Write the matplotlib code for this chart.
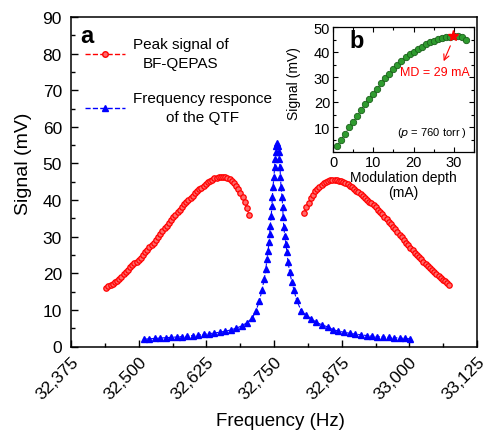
import matplotlib
matplotlib.use("Agg")
import matplotlib.pyplot as plt
from matplotlib.lines import Line2D
from matplotlib.ticker import MultipleLocator, FuncFormatter
import matplotlib.transforms as mtransforms

plt.rcParams['font.family'] = ['Liberation Sans', 'DejaVu Sans']

# ---------------- data ----------------
red_left_f = [32440 + 4 * k for k in range(67)]
red_left_v = [16.0, 16.4, 16.8, 17.2, 17.6, 18.0, 18.5, 19.1, 19.7, 20.3,
              21.0, 21.6, 22.2, 22.7, 23.2, 23.7, 24.3, 25.0, 25.7, 26.4,
              27.1, 27.8, 28.4, 29.1, 29.9, 30.7, 31.5, 32.3, 33.0, 33.7,
              34.5, 35.3, 36.0, 36.7, 37.4, 38.1, 38.8, 39.4, 40.0, 40.6,
              41.2, 41.8, 42.4, 42.9, 43.4, 43.9, 44.4, 44.8, 45.2, 45.6,
              45.9, 46.1, 46.3, 46.3, 46.3, 46.2, 46.0, 45.7, 45.3, 44.6,
              43.8, 43.0, 42.0, 40.9, 39.5, 37.8, 35.8]
red_right_f = [32806 + 4 * k for k in range(68)]
red_right_v = [36.5, 38.0, 39.3, 40.5, 41.5, 42.4, 43.1, 43.7, 44.2, 44.6,
               45.0, 45.3, 45.4, 45.5, 45.5, 45.4, 45.3, 45.1, 44.9, 44.6,
               44.3, 43.9, 43.5, 43.1, 42.6, 42.1, 41.6, 41.1, 40.6, 40.1,
               39.6, 39.1, 38.6, 38.0, 37.4, 36.8, 36.2, 35.5, 34.8, 34.1,
               33.4, 32.7, 32.0, 31.3, 30.5, 29.8, 29.1, 28.4, 27.7, 27.0,
               26.3, 25.6, 25.0, 24.4, 23.8, 23.2, 22.6, 22.0, 21.5, 20.9,
               20.4, 19.8, 19.3, 18.8, 18.3, 17.8, 17.3, 16.7]

blue_f = [32510, 32520, 32530, 32540, 32550, 32560, 32570, 32580, 32590, 32600,
          32610, 32620, 32630, 32640, 32650, 32660, 32670, 32680, 32690, 32700,
          32710, 32717, 32723, 32728, 32732, 32735, 32737, 32739, 32741, 32742,
          32743, 32745, 32746, 32747, 32748, 32750, 32751, 32752, 32753, 32754,
          32756,
          32758, 32759, 32760, 32761, 32762, 32763, 32765, 32766, 32767, 32768,
          32770, 32772, 32774, 32776, 32779, 32783, 32787, 32792, 32800, 32809,
          32819, 32828, 32839, 32850, 32859, 32869, 32879, 32890, 32900, 32910,
          32921, 32931, 32941, 32952, 32962, 32972, 32983, 32992, 33001]
blue_v = [2.0, 2.1, 2.2, 2.3, 2.4, 2.5, 2.6, 2.7, 2.8, 3.0,
          3.1, 3.3, 3.5, 3.7, 3.9, 4.2, 4.5, 5.0, 5.6, 6.5,
          7.8, 9.8, 12.5, 15.5, 18.5, 21.2, 23.9, 26.2, 28.5, 30.7,
          33.0, 35.7, 38.5, 40.7, 43.5, 46.2, 48.9, 51.2, 53.0, 54.8,
          55.7,
          54.8, 53.0, 51.2, 48.9, 46.2, 43.5, 40.7, 38.0, 35.3, 32.6,
          30.3, 28.0, 25.7, 23.0, 20.3, 17.6, 15.3, 12.6, 9.8, 8.6,
          7.6, 6.6, 5.9, 5.3, 4.6, 4.2, 3.9, 3.6, 3.4, 3.2,
          3.0, 2.8, 2.7, 2.6, 2.5, 2.4, 2.3, 2.2, 2.1]

md_mA = list(range(1, 34))
md_signal = [2.6, 5.0, 7.3, 10.0, 12.0, 14.4, 17.0, 19.4, 21.4, 23.4,
             25.4, 27.5, 29.5, 31.1, 33.2, 34.8, 36.4, 37.9, 39.1, 40.2,
             41.3, 42.2, 43.2, 44.0, 44.6, 45.3, 45.7, 46.1, 46.2, 46.5,
             46.5, 46.0, 44.9]
best_md = 29.7
best_signal = 46.4

xticks_main = [32375, 32500, 32625, 32750, 32875, 33000, 33125]

# ---------------- figure ----------------
fig = plt.figure(figsize=(4.88, 4.35), dpi=100)
ax = fig.add_axes([71/488, 1-347.5/435, 406/488, 329.5/435])

ax.plot(red_left_f, red_left_v, ls='--', color='red', lw=0.8, marker='o',
        ms=3.9, mfc='#ff6a6a', mec='red', mew=0.9)
ax.plot(red_right_f, red_right_v, ls='--', color='red', lw=0.8, marker='o',
        ms=3.9, mfc='#ff6a6a', mec='red', mew=0.9)
ax.plot(blue_f, blue_v, ls='--', color='blue', lw=0.8, marker='^',
        ms=5.0, mfc='blue', mec='blue')

ax.set_xlim(32375, 33125)
ax.set_ylim(0, 90)
ax.set_xticks(xticks_main)
ax.xaxis.set_minor_locator(MultipleLocator(62.5))
ax.yaxis.set_major_locator(MultipleLocator(10))
ax.yaxis.set_minor_locator(MultipleLocator(5))
ax.xaxis.set_major_formatter(FuncFormatter(lambda v, p: f"{int(round(v)):,}"))
ax.tick_params(which='both', direction='in', top=False, right=False, labelsize=12.5)
ax.tick_params(which='major', length=5, width=1)
ax.tick_params(which='minor', length=3, width=1)
ax.tick_params(axis='y', pad=6.5)
for sp in ax.spines.values():
    sp.set_linewidth(1.1)
offset = mtransforms.ScaledTranslation(9/100, 0, fig.dpi_scale_trans)
for lab in ax.get_xticklabels():
    lab.set_rotation(45)
    lab.set_ha('right')
    lab.set_va('top')
    lab.set_rotation_mode('anchor')
    lab.set_transform(lab.get_transform() + offset)
ax.tick_params(axis='x', pad=5)
ax.set_xlabel('Frequency (Hz)', fontsize=13.5)
ax.set_ylabel('Signal (mV)', fontsize=14)
ax.xaxis.set_label_coords(0.515, -0.2)
ax.yaxis.set_label_coords(-0.095, 0.558)

ax.text(0.022, 0.925, 'a', transform=ax.transAxes, fontsize=17,
        fontweight='bold', ha='left', va='baseline')

handles = [Line2D([], [], ls='--', color='red', lw=1, marker='o', ms=4,
                  mfc='#ff6a6a', mec='red'),
           Line2D([], [], ls='--', color='blue', lw=1, marker='^', ms=5,
                  mfc='blue', mec='blue')]
leg = ax.legend(handles, ['Peak signal of\nBF-QEPAS', 'Frequency responce\nof the QTF'],
                loc='upper left', bbox_to_anchor=(0.035, 0.94), frameon=False,
                fontsize=11, handlelength=2.6, handletextpad=0.5,
                labelspacing=1.35, borderpad=0, borderaxespad=0, numpoints=1)
for t in leg.get_texts():
    t.set_multialignment('center')
    t.set_linespacing(1.5)

# ---------------- inset ----------------
ins = fig.add_axes([333/488, 1-153/435, 141/488, 125/435])
ins.plot(md_mA, md_signal, ls='--', color='#1e6e1e', lw=0.6, marker='o',
         ms=4.6, mfc='#2e9b2e', mec='#1a5f1a', mew=0.6)
ins.plot([best_md], [best_signal], marker='*', color='red', ms=8, ls='none')
ins.set_xlim(0, 35)
ins.set_ylim(0, 50)
ins.set_xticks([0, 10, 20, 30])
ins.set_yticks([10, 20, 30, 40, 50])
ins.xaxis.set_minor_locator(MultipleLocator(5))
ins.yaxis.set_minor_locator(MultipleLocator(5))
ins.tick_params(which='both', direction='in', top=True, right=True, labelsize=10.5)
ins.tick_params(which='major', length=3.5, width=0.8, pad=2)
ins.tick_params(which='minor', length=2, width=0.8)
for sp in ins.spines.values():
    sp.set_linewidth(0.9)
ins.set_xlabel('Modulation depth\n(mA)', fontsize=10, labelpad=1, linespacing=1.1)
ins.set_ylabel('Signal (mV)', fontsize=10)
ins.yaxis.set_label_coords(-0.225, 0.556)
ins.text(4.0, 42.0, 'b', fontsize=17, fontweight='bold', ha='left', va='baseline')
ins.annotate('MD = 29 mA', xy=(27.2, 35.5), xytext=(25.4, 31.8),
             fontsize=9, color='red', ha='center', va='center')
ins.annotate('', xy=(27.2, 35.3), xytext=(29.4, 43.5),
             arrowprops=dict(arrowstyle='->', color='red', lw=0.8))
ins.text(24.6, 8.2, r'($\it{p}$ = 760 torr )', fontsize=8, ha='center', va='center')

fig.savefig('out.png', dpi=100)
